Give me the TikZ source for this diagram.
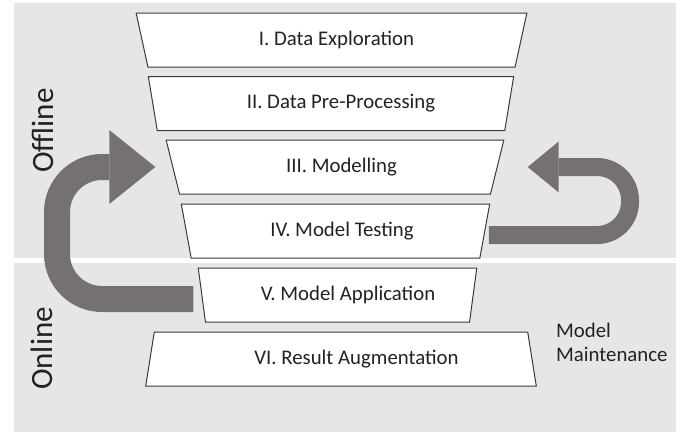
\documentclass[tikz,border=0pt]{standalone}
\usepackage{fontspec}
\setmainfont{Carlito}
\usetikzlibrary{arrows.meta,shapes.geometric}
\definecolor{cPanel}{HTML}{E7E6E6}
\definecolor{cLoop}{HTML}{767171}
\definecolor{cEdge}{HTML}{3A3A3A}
\definecolor{cInk}{HTML}{222222}
\tikzset{
  stage/.style={trapezium,trapezium stretches=true,trapezium angle=76,draw=cEdge,fill=white,line width=1pt,
    minimum height=54pt,inner sep=2pt,text=cInk,font=\fontsize{20.8}{24}\selectfont},
  funnel/.style={stage,trapezium angle=104},
  nudge/.style={execute at begin node={\hspace*{#1}}},
  panel/.style={fill=cPanel,draw=none},
  side/.style={rotate=90,text=cInk,inner sep=0pt,font=\fontsize{31}{36}\selectfont},
  note/.style={align=left,text=cInk,inner sep=0pt,font=\fontsize{20.8}{24}\selectfont},
  loopbig/.style={draw=cLoop,line width=26pt,rounded corners=45pt,-{Triangle[length=46pt,width=74pt,line width=0pt]}},
  loopsmall/.style={draw=cLoop,line width=18pt,rounded corners=33pt,-{Triangle[length=31pt,width=51pt,line width=0pt]}}}

\begin{document}
\begin{tikzpicture}[x=1pt,y=-1pt]
\useasboundingbox (0,0) rectangle (681,432);
% offline / online bands
\fill[panel] (14,3) rectangle (676,258);
\fill[panel] (14,263) rectangle (676,432);
\node[side] (off) at (42.5,130.5) {Offline};
\node[side] (on)  at (42,348.5)   {Online};
% the funnel
\node[funnel, nudge=10pt, minimum width=391pt] (expl)  at (331.5,40)  {I. Data Exploration};
\node[funnel, nudge=20pt, minimum width=366pt] (prep)  at (331,103.5) {II. Data Pre-Processing};
\node[funnel, nudge=13pt, minimum width=338pt] (model) at (335,167)   {III. Modelling};
\node[funnel, nudge=13pt, minimum width=309pt] (test)  at (335.5,231) {IV. Model Testing};
\node[funnel, nudge=21pt, minimum width=279pt] (apply) at (337.5,295) {V. Model Application};
\node[stage,  nudge=31pt, minimum width=392pt] (augm)  at (341,359)   {VI. Result Augmentation};
\node[note, anchor=west] (maint) at (556,342) {Model\\Maintenance};
% feedback loops
\coordinate (bendL) at (57,167);
\coordinate (bendR) at (630,167);
\draw[loopbig] ([xshift=-8pt,yshift=-4pt]apply.180) -| (bendL) -- ([xshift=-17pt]model.180);
\draw[loopsmall] ([xshift=3.5pt,yshift=-4pt]test.0) -| (bendR) -- ([xshift=30pt]model.0);
\end{tikzpicture}
\end{document}
